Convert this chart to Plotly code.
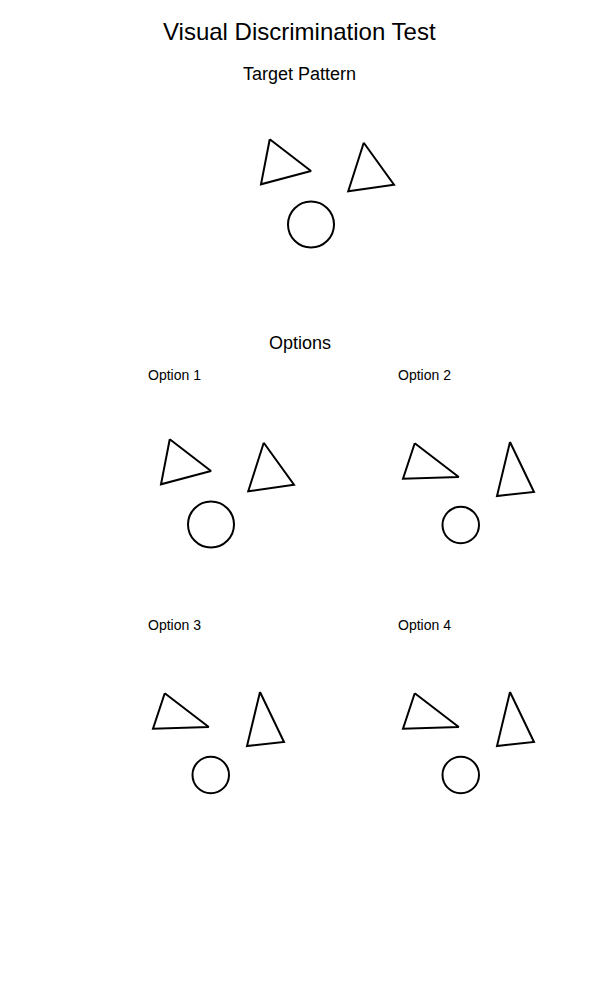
import plotly.graph_objects as go

# ---- data (panel-local units, origin at panel centre, y up) ----
panel_labels = ["Target Pattern", "Option 1", "Option 2", "Option 3", "Option 4"]

target_tri1_x = [-0.21, 1.44, -0.56]
target_tri1_y = [2.23, 0.96, 0.43]
target_tri2_x = [3.55, 4.76, 2.93]
target_tri2_y = [2.09, 0.41, 0.15]
target_circle = [1.44, -1.18, 0.92]   # cx, cy, r

opt1_tri1_x = [-0.21, 1.44, -0.56]
opt1_tri1_y = [2.23, 0.96, 0.43]
opt1_tri2_x = [3.55, 4.76, 2.93]
opt1_tri2_y = [2.09, 0.41, 0.15]
opt1_circle = [1.44, -1.18, 0.92]

opt2_tri1_x = [-0.41, 1.35, -0.88]
opt2_tri1_y = [2.07, 0.72, 0.65]
opt2_tri2_x = [3.40, 4.36, 2.88]
opt2_tri2_y = [2.12, 0.12, -0.04]
opt2_circle = [1.43, -1.20, 0.73]

opt3_tri1_x = [-0.41, 1.35, -0.88]
opt3_tri1_y = [2.07, 0.72, 0.65]
opt3_tri2_x = [3.40, 4.36, 2.88]
opt3_tri2_y = [2.12, 0.12, -0.04]
opt3_circle = [1.43, -1.20, 0.73]

opt4_tri1_x = [-0.41, 1.35, -0.88]
opt4_tri1_y = [2.07, 0.72, 0.65]
opt4_tri2_x = [3.40, 4.36, 2.88]
opt4_tri2_y = [2.12, 0.12, -0.04]
opt4_circle = [1.43, -1.20, 0.73]

patterns = [
    (target_tri1_x, target_tri1_y, target_tri2_x, target_tri2_y, target_circle),
    (opt1_tri1_x, opt1_tri1_y, opt1_tri2_x, opt1_tri2_y, opt1_circle),
    (opt2_tri1_x, opt2_tri1_y, opt2_tri2_x, opt2_tri2_y, opt2_circle),
    (opt3_tri1_x, opt3_tri1_y, opt3_tri2_x, opt3_tri2_y, opt3_circle),
    (opt4_tri1_x, opt4_tri1_y, opt4_tri2_x, opt4_tri2_y, opt4_circle),
]

# ---- layout geometry (pixels, page coordinates) ----
W, H = 600, 1000
OFF = 8                    # page body margin offset
panel_centers = [(275, 195), (175, 495), (425, 495), (175, 745), (425, 745)]
PW, PH = 250, 200          # panel size in px
UNIT = 25                  # px per data unit
label_pos = [(299, 73.5), (174, 375), (424, 375), (174, 625), (424, 625)]
label_sizes = [18, 14, 14, 14, 14]


def px(v):
    return (v - OFF) / W


def py(v):
    return 1 - (v - OFF) / H


fig = go.Figure()
FONT = "Liberation Sans, Arial, sans-serif"

for i, (t1x, t1y, t2x, t2y, circ) in enumerate(patterns):
    k = "" if i == 0 else str(i + 1)
    xa, ya = "x" + k, "y" + k
    cx, cy = panel_centers[i]
    xd = [px(cx - PW / 2), px(cx + PW / 2)]
    yd = [py(cy + PH / 2), py(cy - PH / 2)]
    axis_common = dict(visible=False, showgrid=False, zeroline=False, fixedrange=True)
    fig.update_layout({
        "xaxis" + k: dict(domain=xd, range=[-PW / 2 / UNIT, PW / 2 / UNIT], anchor=ya, **axis_common),
        "yaxis" + k: dict(domain=yd, range=[-PH / 2 / UNIT, PH / 2 / UNIT], anchor=xa, **axis_common),
    })
    for tx, ty in ((t1x, t1y), (t2x, t2y)):
        fig.add_trace(go.Scatter(
            x=tx + tx[:1], y=ty + ty[:1], mode="lines",
            line=dict(color="black", width=2), xaxis=xa, yaxis=ya,
            hoverinfo="skip", showlegend=False))
    ccx, ccy, r = circ
    fig.add_shape(type="circle", xref=xa, yref=ya,
                  x0=ccx - r, x1=ccx + r, y0=ccy - r, y1=ccy + r,
                  line=dict(color="black", width=2), fillcolor="rgba(0,0,0,0)")

annotations = [dict(text="Visual Discrimination Test", x=px(299.5), y=py(31),
                    xref="paper", yref="paper", showarrow=False,
                    xanchor="center", yanchor="middle",
                    font=dict(family=FONT, size=24, color="black")),
               dict(text="Options", x=px(299.5), y=py(343),
                    xref="paper", yref="paper", showarrow=False,
                    xanchor="center", yanchor="middle",
                    font=dict(family=FONT, size=18, color="black"))]
for lab, (lx, ly), fs in zip(panel_labels, label_pos, label_sizes):
    annotations.append(dict(text=lab, x=px(lx), y=py(ly), xref="paper", yref="paper",
                            showarrow=False, xanchor="center", yanchor="middle",
                            font=dict(family=FONT, size=fs, color="black")))

fig.update_layout(
    width=W, height=H, autosize=False,
    margin=dict(l=0, r=0, t=0, b=0),
    paper_bgcolor="white", plot_bgcolor="rgba(0,0,0,0)",
    annotations=annotations, showlegend=False,
)

fig.write_html("out.html")
